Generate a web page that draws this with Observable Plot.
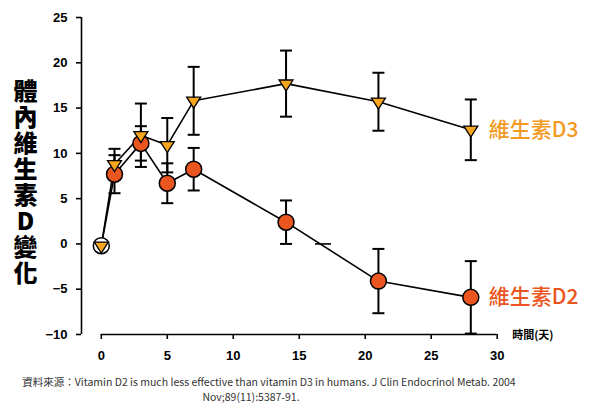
<!DOCTYPE html>
<html><head><meta charset="utf-8">
<script src="https://cdn.jsdelivr.net/npm/d3@7"></script>
<script src="https://cdn.jsdelivr.net/npm/@observablehq/plot@0.6"></script>
<style>
body{margin:0;background:#fff;}
#wrap{position:relative;width:599px;height:405px;overflow:hidden;background:#fff;}
#wrap svg{position:absolute;left:0;top:0;}
#ylabel{position:absolute;left:13px;top:79px;writing-mode:vertical-rl;text-orientation:upright;font-family:"Noto Sans CJK TC","Noto Sans CJK SC",sans-serif;font-weight:900;font-size:24px;letter-spacing:2px;line-height:24px;color:#000;}
.cap{position:absolute;width:600px;text-align:center;font-family:"Noto Sans CJK TC","Noto Sans",sans-serif;font-size:10.5px;line-height:13px;color:#333;white-space:nowrap;}
</style></head>
<body><div id="wrap"></div>
<script>
const days = [0, 1, 3, 5, 7, 14, 21, 28];
const d2Values = [-0.2, 7.7, 11.1, 6.7, 8.25, 2.4, -4.1, -5.9];
const d2Errors = [0, 2.1, 1.9, 2.2, 2.35, 2.4, 3.55, 4.0];
const d3Values = [-0.2, 8.8, 12.0, 10.9, 15.8, 17.7, 15.7, 12.6];
const d3Errors = [0, 1.7, 3.5, 3.0, 3.75, 3.65, 3.2, 3.35];
const seriesNames = ["維生素D2", "維生素D3"];
const seriesColors = ["#EA5520", "#F39A1E"];
const markerFills = ["#EA5520", "#F6A51E"];
const baselineFill = "white";
const xTicks = [0, 5, 10, 15, 20, 25, 30];
const yTicks = [-10, -5, 0, 5, 10, 15, 20, 25];
const xDomain = [-1.5, 30];
const strayCaps = [{day: 16.8, value: 0}];
const yLabel = "體內維生素D變化";
const xLabel = "時間(天)";
const captionLines = [
  "資料來源：Vitamin D2 is much less effective than vitamin D3 in humans. J Clin Endocrinol Metab. 2004",
  "Nov;89(11):5387-91."
];

const d2 = days.map((day, i) => ({day, value: d2Values[i], err: d2Errors[i], series: seriesNames[0]}));
const d3 = days.map((day, i) => ({day, value: d3Values[i], err: d3Errors[i], series: seriesNames[1]}));
const errRows = [...d2, ...d3].filter(d => d.err > 0);
const lastRows = [d2[d2.length - 1], d3[d3.length - 1]];

const hline = {draw(ctx, size) { const r = Math.sqrt(size / Math.PI); ctx.moveTo(-r, 0); ctx.lineTo(r, 0); }};
const triDown = {draw(ctx, size) { const r = Math.sqrt(size / Math.PI); ctx.moveTo(-r, -r * 0.52); ctx.lineTo(r, -r * 0.52); ctx.lineTo(0, r * 1.05); ctx.closePath(); }};

const chart = Plot.plot({
  width: 599,
  height: 368,
  marginLeft: 81,
  marginRight: 102.3,
  marginTop: 17,
  marginBottom: 34,
  style: {fontFamily: "'Liberation Sans', Arial, sans-serif", fontSize: "13px", fontWeight: "bold", color: "#000", background: "transparent", overflow: "visible"},
  x: {domain: xDomain},
  y: {domain: [yTicks[0], yTicks[yTicks.length - 1]]},
  marks: [
    Plot.ruleY([yTicks[0]], {x1: xTicks[0], x2: xTicks[xTicks.length - 1], stroke: "black", strokeWidth: 1.6}),
    Plot.ruleX([xDomain[0]], {y1: yTicks[0], y2: yTicks[yTicks.length - 1], stroke: "black", strokeWidth: 1.6}),
    Plot.axisX({ticks: xTicks, tickSize: 5, tickPadding: 11, label: null, strokeWidth: 1.6, fontSize: 13, fontWeight: "bold"}),
    Plot.axisY({ticks: yTicks, tickSize: 5, tickPadding: 9, label: null, strokeWidth: 1.6, fontSize: 13, fontWeight: "bold"}),
    Plot.ruleX(errRows, {x: "day", y1: d => d.value - d.err, y2: d => d.value + d.err, stroke: "black", strokeWidth: 2}),
    Plot.dot(errRows, {x: "day", y: d => d.value + d.err, symbol: hline, r: 6, fill: "none", stroke: "black", strokeWidth: 2}),
    Plot.dot(errRows, {x: "day", y: d => d.value - d.err, symbol: hline, r: 6, fill: "none", stroke: "black", strokeWidth: 2}),
    Plot.dot(strayCaps, {x: "day", y: "value", symbol: hline, r: 8, fill: "none", stroke: "black", strokeWidth: 1.6}),
    Plot.line(d2, {x: "day", y: "value", stroke: "black", strokeWidth: 1.6}),
    Plot.line(d3, {x: "day", y: "value", stroke: "black", strokeWidth: 1.6}),
    Plot.dot(d2, {x: "day", y: "value", r: 8, fill: d => d.day === days[0] ? baselineFill : markerFills[0], stroke: "black", strokeWidth: 1.5}),
    Plot.dot(d3, {x: "day", y: "value", symbol: triDown, r: 7, fill: markerFills[1], stroke: "black", strokeWidth: 1.3}),
    Plot.text(lastRows, {x: "day", y: "value", text: "series", fill: d => seriesColors[seriesNames.indexOf(d.series)], dx: 18, textAnchor: "start", lineAnchor: "middle", fontSize: 21, fontWeight: 500, fontFamily: "'Noto Sans CJK TC', sans-serif"}),
    Plot.text([xLabel], {frameAnchor: "bottom-right", dx: 15, dy: 1, textAnchor: "start", lineAnchor: "middle", fontSize: 11, fontWeight: "bold", fontFamily: "'Noto Sans CJK TC', sans-serif"})
  ]
});

const wrap = document.getElementById("wrap");
wrap.appendChild(chart);
const yl = document.createElement("div");
yl.id = "ylabel";
yl.textContent = yLabel;
wrap.appendChild(yl);
const capCenters = [269, 251];
const capTops = [375, 390];
captionLines.forEach((t, i) => {
  const c = document.createElement("div");
  c.className = "cap";
  c.textContent = t;
  c.style.left = (capCenters[i] - 300) + "px";
  c.style.top = capTops[i] + "px";
  wrap.appendChild(c);
});
</script>
</body></html>
